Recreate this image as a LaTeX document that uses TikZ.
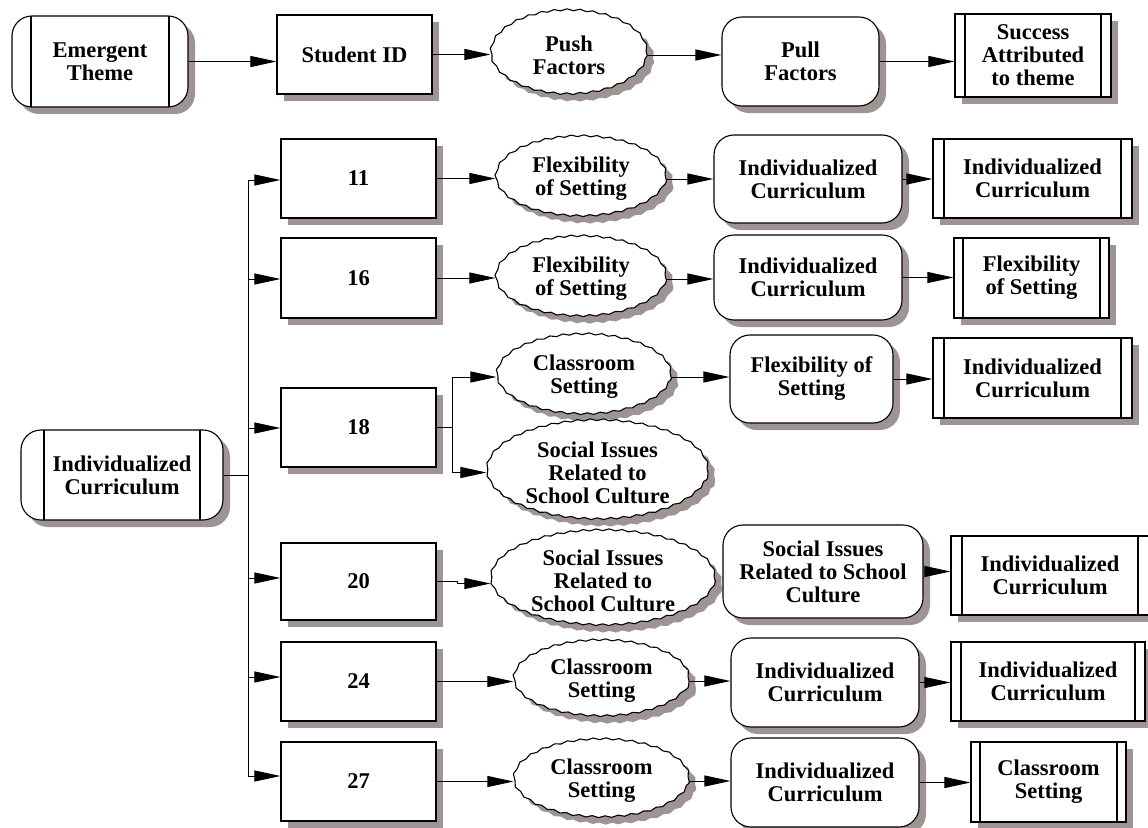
\documentclass[tikz,border=0pt]{standalone}
\usepackage{fontspec}
\setmainfont{Liberation Serif}
\usetikzlibrary{shapes.geometric,arrows.meta,decorations.pathmorphing,calc}
\begin{document}
\tikzset{
  base/.style={draw, line width=1.1pt, fill=white, align=center, inner sep=0pt,
     font=\fontsize{22.5}{23}\selectfont\bfseries},
  shcopy/.style={draw=none, fill={rgb,255:red,158;green,148;blue,148}, path picture={}},
  sz/.style 2 args={minimum width=#1, minimum height=#2},
  plainbox/.style={base, rectangle},
  roundbox/.style={base, rectangle, rounded corners=20pt},
  wavy/.style={base, ellipse, inner xsep=-25pt, inner ysep=-10pt, decorate,
     decoration={snake, segment length=13pt, amplitude=0.9pt}},
  sidelines/.style={path picture={\draw[line width=1.1pt]
     ([xshift=#1]path picture bounding box.north west) -- ([xshift=#1]path picture bounding box.south west)
     ([xshift=-#1]path picture bounding box.north east) -- ([xshift=-#1]path picture bounding box.south east);}},
  dblbox/.style={plainbox, sidelines=#1},
  arr/.style={-{Triangle[length=26pt,width=11pt]}, line width=1pt},
  link/.style={line width=1pt},
}
% node with its offset shadow: style, name, position, text
\newcommand\nd[4]{%
  \node[#1, shcopy] (#2sh) at ($(#3)+(7,7)$) {};
  \node[#1] (#2) at (#3) {#4};}
\begin{tikzpicture}[x=1pt,y=-1pt]
\useasboundingbox (0,0) rectangle (1148,827);
% ---- top row
\nd{roundbox, sidelines=19pt, sz={176}{91}}{emerg}{100,61.5}{Emergent\\Theme}
\nd{plainbox, sz={155}{79}}{sid}{354.5,54.5}{Student ID}
\nd{wavy, sz={156}{84}}{push}{569,55}{Push\\Factors}
\nd{roundbox, sz={157}{89}}{pull}{800.5,61.5}{Pull\\Factors}
\nd{dblbox=10pt, sz={156}{83}}{succ}{1033,55.5}{Success\\Attributed\\to theme}
\draw[arr] (emerg.east) -- (emerg.east -| sid.west);
\draw[arr] (sid.east) -- (sid.east -| push.west);
\draw[arr] (push.east) -- (push.east -| pull.west);
\draw[arr] (pull.east) -- (pull.east -| succ.west);
% ---- left
\nd{roundbox, sidelines=23pt, sz={202}{90}}{main}{122,475}{Individualized\\Curriculum}
\coordinate (trunk) at (248,474);
\coordinate (split) at (452,428);
% ---- student boxes
\nd{plainbox, sz={155}{79}}{b11}{358.5,178.5}{11}
\nd{plainbox, sz={155}{80}}{b16}{358.5,278}{16}
\nd{plainbox, sz={155}{79}}{b18}{358.5,427.5}{18}
\nd{plainbox, sz={155}{77}}{b20}{358.5,581.5}{20}
\nd{plainbox, sz={155}{79}}{b24}{358.5,681.5}{24}
\nd{plainbox, sz={155}{79}}{b27}{358.5,781.5}{27}
% row 11
\nd{wavy, sz={170}{80}}{e11}{581,179}{Flexibility\\of Setting}
\nd{roundbox, sz={188}{88}}{r11}{808,179}{Individualized\\Curriculum}
\nd{dblbox=11pt, sz={199}{79}}{d11}{1032.5,178.5}{Individualized\\Curriculum}
% row 16
\nd{wavy, sz={170}{80}}{e16}{581,279}{Flexibility\\of Setting}
\nd{roundbox, sz={188}{85}}{r16}{808,277.5}{Individualized\\Curriculum}
\nd{dblbox=9pt, sz={155}{80}}{d16}{1031.5,278}{Flexibility\\of Setting}
% row 18
\nd{wavy, sz={174}{80}}{e18a}{584,377}{Classroom\\Setting}
\nd{wavy, sz={221}{99}}{e18b}{597.5,472.5}{Social Issues\\Related to\\School Culture}
\nd{roundbox, sz={163}{88}}{r18}{811.5,379}{Flexibility of\\Setting}
\nd{dblbox=11pt, sz={199}{80}}{d18}{1032.5,378}{Individualized\\Curriculum}
% row 20
\nd{wavy, sz={224}{95}}{e20}{603,580.5}{Social Issues\\Related to\\School Culture}
\nd{roundbox, sz={200}{93}}{r20}{823,571.5}{Social Issues\\Related to School\\Culture}
\nd{dblbox=11pt, sz={198}{79}}{d20}{1050,575.5}{Individualized\\Curriculum}
% row 24
\nd{wavy, sz={175}{76}}{e24}{601.5,681}{Classroom\\Setting}
\nd{roundbox, sz={188}{89}}{r24}{825,682.5}{Individualized\\Curriculum}
\nd{dblbox=10pt, sz={194}{79}}{d24}{1048,681.5}{Individualized\\Curriculum}
% row 27
\nd{wavy, sz={175}{78}}{e27}{601.5,781}{Classroom\\Setting}
\nd{roundbox, sz={188}{89}}{r27}{825,782.5}{Individualized\\Curriculum}
\nd{dblbox=9pt, sz={155}{80}}{d27}{1048.5,782}{Classroom\\Setting}
% ---- trunk and branches
\draw[link] (main.east) -- (main.east -| trunk);
\draw[link] ([yshift=-1.5pt]b11.west -| trunk) -- ([yshift=5.5pt]b27.west -| trunk);
\draw[arr] ([yshift=-1.5pt]b11.west -| trunk) -- ([yshift=-1.5pt]b11.west);
\draw[arr] ([yshift=-1pt]b16.west -| trunk) -- ([yshift=-1pt]b16.west);
\draw[arr] ([yshift=-0.5pt]b18.west -| trunk) -- ([yshift=-0.5pt]b18.west);
\draw[arr] ([yshift=3.5pt]b20.west -| trunk) -- ([yshift=3.5pt]b20.west);
\draw[arr] ([yshift=4.5pt]b24.west -| trunk) -- ([yshift=4.5pt]b24.west);
\draw[arr] ([yshift=5.5pt]b27.west -| trunk) -- ([yshift=5.5pt]b27.west);
% row 11 links
\draw[arr] (b11.east) -- (b11.east -| e11.west);
\draw[arr] (e11.east) -- (e11.east -| r11.west);
\draw[arr] (r11.east) -- (r11.east -| d11.west);
% row 16 links
\draw[arr] (b16.east) -- (b16.east -| e16.west);
\draw[arr] (e16.east) -- (e16.east -| r16.west);
\draw[arr] (r16.east) -- (r16.east -| d16.west);
% row 18 links
\draw[link] (b18.east) -- (b18.east -| split);
\draw[link] (split |- e18a.west) -- (split |- e18b.west);
\draw[arr] (split |- e18a.west) -- (e18a.west);
\draw[arr] (split |- e18b.west) -- (e18b.west);
\draw[arr] (e18a.east) -- (e18a.east -| r18.west);
\draw[arr] (r18.east) -- (r18.east -| d18.west);
% row 20 links
\draw[arr] (b20.east) -- ++(21,0) |- ([yshift=-3pt]e20.west);
\draw[arr] (r20.east) -- (r20.east -| d20.west);
% row 24 links
\draw[arr] (b24.east) -- (b24.east -| e24.west);
\draw[arr] (e24.east) -- (e24.east -| r24.west);
\draw[arr] (r24.east) -- (r24.east -| d24.west);
% row 27 links
\draw[arr] (b27.east) -- (b27.east -| e27.west);
\draw[arr] (e27.east) -- (e27.east -| r27.west);
\draw[arr] (r27.east) -- (r27.east -| d27.west);
\end{tikzpicture}
\end{document}
